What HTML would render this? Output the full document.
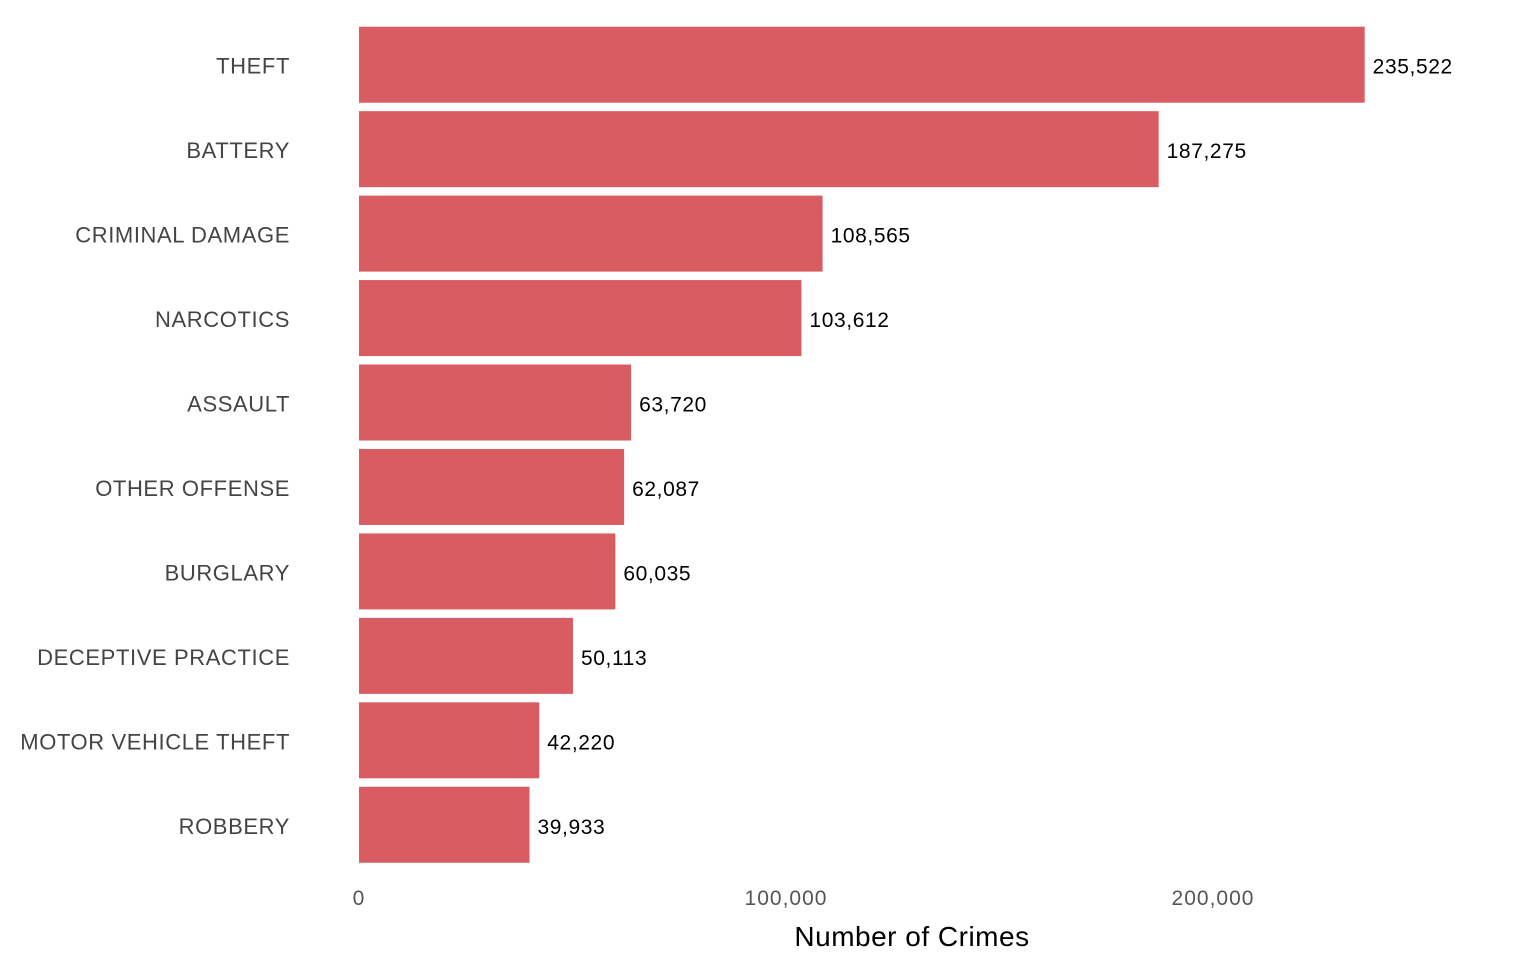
<!DOCTYPE html>
<html><head><meta charset="utf-8"><style>
body{margin:0;background:#fff}
svg{display:block;font-family:"Liberation Sans",Arial,sans-serif}
</style></head><body>
<svg id="chart" width="1536" height="960"></svg>
<script>
const categories=["THEFT","BATTERY","CRIMINAL DAMAGE","NARCOTICS","ASSAULT","OTHER OFFENSE","BURGLARY","DECEPTIVE PRACTICE","MOTOR VEHICLE THEFT","ROBBERY"];
const values=[235522,187275,108565,103612,63720,62087,60035,50113,42220,39933];
const ticks=[0,100000,200000];
const tickLabels=["0","100,000","200,000"];
const NS="http://www.w3.org/2000/svg";
const svg=document.getElementById('chart');
const x0=359,pxPer=4.27/1000;
function xs(v){return x0+v*pxPer;}
const top0=22.5,step=84.45,bh=76;
function yc(i){return top0+step*(i+0.5);}
function mk(t,a,txt){const e=document.createElementNS(NS,t);for(const k in a)e.setAttribute(k,a[k]);if(txt!==undefined)e.textContent=txt;svg.appendChild(e);return e;}
const fmt=v=>v.toLocaleString('en-US');
categories.forEach((c,i)=>{
  const y=yc(i);
  const r=mk('rect',{x:x0,y:y-bh/2,width:xs(values[i])-x0,height:bh,fill:'#d95c63'});
  
  
  const l=mk('text',{x:290,y:y+9,'text-anchor':'end','font-size':'22','letter-spacing':'0.6',fill:'#444'},c);
  
  
  const v=mk('text',{x:xs(values[i])+8,y:y+9,'font-size':'21','letter-spacing':'0.6',fill:'#000'},fmt(values[i]));
  
  
});
ticks.forEach((t,i)=>{
  const e=mk('text',{x:xs(t),y:905,'text-anchor':'middle','font-size':'21','letter-spacing':'1',fill:'#555'},tickLabels[i]);
  
  
});
const ti=mk('text',{x:912,y:946,'text-anchor':'middle','font-size':'28','letter-spacing':'0.5',fill:'#000'},'Number of Crimes');


</script>
</body></html>
